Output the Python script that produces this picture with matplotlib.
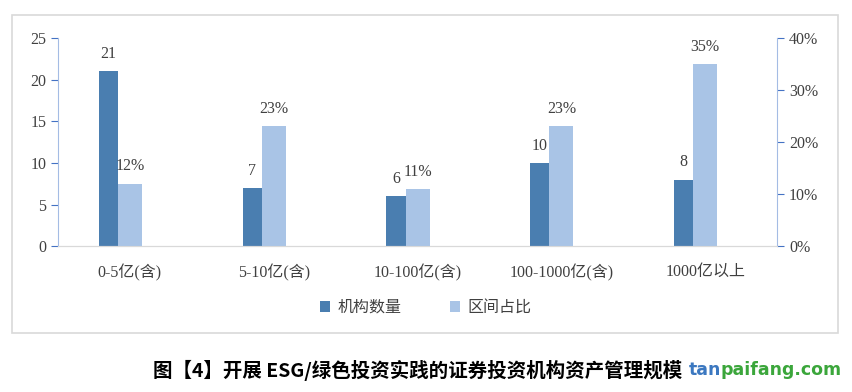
import matplotlib.pyplot as plt
import numpy as np
from matplotlib.patches import Rectangle

plt.rcParams['font.family'] = ['Liberation Serif', 'Noto Sans CJK SC']

categories = ['0-5亿(含)', '5-10亿(含)', '10-100亿(含)', '100-1000亿(含)', '1000亿以上']
counts = [21, 7, 6, 10, 8]
shares = [12, 23, 11, 23, 35]  # percent

dark = '#4A7EB0'
light = '#A9C4E6'
axis_col = '#A4BCE4'
tick_col = '#4472C4'
txt = '#404040'

fig = plt.figure(figsize=(8.52, 3.92), dpi=100)
fig.patches.append(Rectangle((0.014, 0.150), 0.970, 0.812, transform=fig.transFigure,
                             fill=False, edgecolor='#D9D9D9', linewidth=1.2))

ax = fig.add_axes([0.0681, 0.372, 0.844, 0.531])
ax2 = ax.twinx()

x = np.arange(len(categories))
w1, w2 = 0.133, 0.167
b1 = ax.bar(x - w2 / 2 - w1 / 2, counts, w1, color=dark, label='机构数量')
b2 = ax2.bar(x, shares, w2, color=light, label='区间占比')

ax.set_xlim(-0.5, len(categories) - 0.5)
ax.set_ylim(0, 25)
ax2.set_ylim(0, 40)
ax.set_yticks(range(0, 26, 5))
ax2.set_yticks(range(0, 41, 10))
ax2.set_yticklabels([f'{v}%' for v in range(0, 41, 10)])
ax.set_xticks(x)
ax.set_xticklabels(categories)

for a in (ax, ax2):
    a.spines['top'].set_visible(False)
    a.spines['left'].set_color(axis_col)
    a.spines['right'].set_color(axis_col)
    a.spines['bottom'].set_color('#D9D9D9')
    a.tick_params(axis='y', colors=tick_col, labelcolor=txt, labelsize=11.5, length=5)
ax.spines['right'].set_visible(False)
ax2.spines['left'].set_visible(False)
ax.tick_params(axis='x', length=0, labelsize=11.5, labelcolor=txt, pad=13)

for xi, v in zip(x, counts):
    ax.text(xi - w2 / 2 - w1 / 2, v + 1.1, str(v), ha='center', va='bottom', fontsize=11.5, color=txt)
for xi, v in zip(x, shares):
    ax2.text(xi, v + 1.8, f'{v}%', ha='center', va='bottom', fontsize=11.5, color=txt)

fig.legend(handles=[b1, b2], loc='center', bbox_to_anchor=(0.5, 0.215), ncol=2,
           frameon=False, fontsize=11.5, handlelength=0.6, handleheight=0.7,
           handletextpad=0.5, columnspacing=3.0, labelcolor=txt)

fig.text(0.18, 0.056, '图【4】开展 ESG/绿色投资实践的证券投资机构资产管理规模', ha='left', va='center',
         fontsize=14, fontweight='bold', color='black', family=['Noto Sans CJK SC'])

# watermark
t1 = fig.text(0.808, 0.056, 'tan', ha='left', va='center', fontsize=12.5,
              fontweight='bold', color='#3C78C0', family=['DejaVu Sans'])
t2 = fig.text(0, 0, 'paifang.com', ha='left', va='bottom', fontsize=12.5,
              fontweight='bold', color='#3BA63B', family=['DejaVu Sans'])
fig.canvas.draw()
bb = t1.get_window_extent()
x1, y0 = fig.transFigure.inverted().transform((bb.x1, bb.y0))
t2.set_position((x1, y0))

fig.savefig('out.png', dpi=100)
